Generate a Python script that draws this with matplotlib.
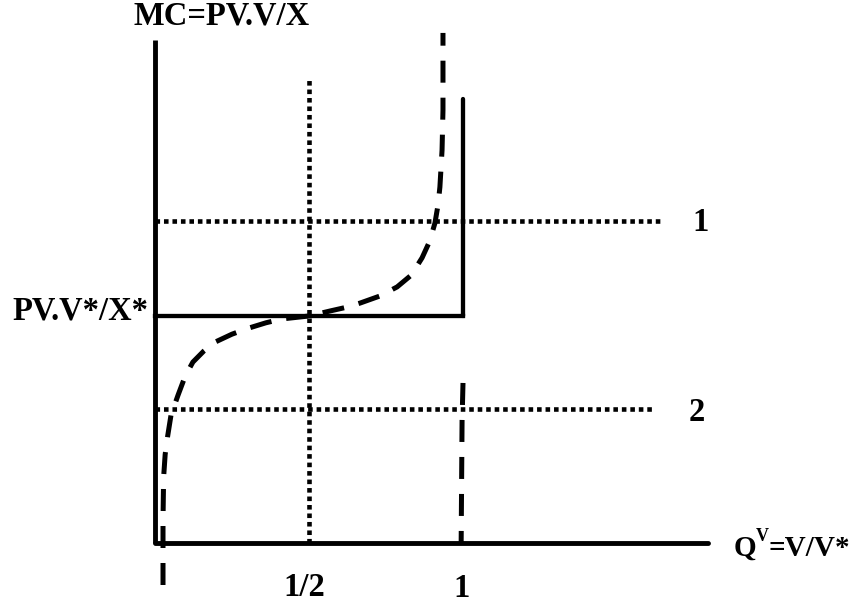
import matplotlib
matplotlib.use("Agg")
import matplotlib.pyplot as plt

plt.rcParams["font.family"] = ["Liberation Serif", "DejaVu Serif"]
plt.rcParams["font.weight"] = "bold"

# scaled quantity Q = V/V* and marginal cost MC (MC* = 1)
q_half = 0.5
q_full = 1.0
mc_star = 1.0
mc_line1 = 1.42
mc_line2 = 0.59

# MC curve, lower-left branch rising to the vertical asymptote near Q = 1
curve_q = [0.026, 0.026, 0.028, 0.033, 0.041, 0.052, 0.075, 0.098, 0.123,
           0.158, 0.195, 0.250, 0.305, 0.360, 0.412, 0.5, 0.568, 0.620,
           0.666, 0.730, 0.786, 0.832, 0.867, 0.892, 0.909, 0.919, 0.925,
           0.932, 0.935, 0.935]
curve_mc = [-0.185, 0.101, 0.290, 0.390, 0.470, 0.564, 0.652, 0.735, 0.797,
            0.845, 0.885, 0.920, 0.947, 0.970, 0.987, 1.0, 1.022, 1.038,
            1.057, 1.088, 1.128, 1.180, 1.256, 1.330, 1.410, 1.490, 1.568,
            1.731, 1.907, 2.247]
# branch coming down just past Q = 1
branch_q = [1.0, 0.997, 0.994]
branch_mc = [0.705, 0.542, 0.0]

y_axis_top = 2.216
x_axis_end = 1.795
q_wall_top = 1.956
half_top = 2.048
line1_end = 1.64
line2_end = 1.623

fig = plt.figure(figsize=(8.58, 6.07), dpi=100)
ax = fig.add_axes([0, 0, 1, 1])
ax.set_xlim(-155 / 308, (858 - 155) / 308)
ax.set_ylim(-(607 - 543) / 227, 543 / 227)
ax.axis("off")

k = "black"
axis_lw = 3.5
dot = dict(color=k, lw=3.3, linestyle=(0, (1, 0.85)), dash_capstyle="butt")

# axes
ax.plot([0, 0], [0, y_axis_top], color=k, lw=axis_lw, solid_capstyle="butt")
ax.plot([0, x_axis_end], [0, 0], color=k, lw=axis_lw, solid_capstyle="round")

# dotted guides
ax.plot([q_half, q_half], [0, half_top], **dot)
ax.plot([0, line1_end], [mc_line1, mc_line1], **dot)
ax.plot([0, line2_end], [mc_line2, mc_line2], **dot)

# MC* level and capacity wall at Q = 1
ax.plot([0, q_full], [mc_star, mc_star], color=k, lw=3.1)
ax.plot([q_full, q_full], [mc_star, q_wall_top], color=k, lw=3.1,
        solid_capstyle="round")

# dashed MC curve
ax.plot(curve_q, curve_mc, color=k, lw=3.6, linestyle=(0, (4.4, 3)),
        dash_capstyle="butt")
ax.plot(branch_q, branch_mc, color=k, lw=3.6, linestyle=(0, (4.4, 3)),
        dash_capstyle="butt")

fs = 23.5
ax.text(0.215, 2.32, "MC=PV.V/X", fontsize=fs, ha="center", va="center")
ax.text(-0.02, 1.02, "PV.V*/X*", fontsize=fs, ha="right", va="center")
ax.text(1.77, 1.41, "1", fontsize=fs, ha="center", va="center")
ax.text(1.76, 0.575, "2", fontsize=fs, ha="center", va="center")
ax.text(q_half - 0.015, -0.195, "1/2", fontsize=fs, ha="center", va="center")
ax.text(q_full - 0.005, -0.2, "1", fontsize=fs, ha="center", va="center")

# x-axis label with superscript
base_y = -(556 - 543) / 227
t_q = ax.text(1.88, base_y, "Q", fontsize=21, ha="left", va="baseline")
t_v = ax.annotate("V", xy=(0.97, 0.62), xycoords=t_q, fontsize=13,
                  ha="left", va="bottom")
ax.annotate("=V/V*", xy=(0.97, base_y), xycoords=(t_v, "data"),
            fontsize=21, ha="left", va="baseline")

fig.savefig("out.png", dpi=100, facecolor="white")
